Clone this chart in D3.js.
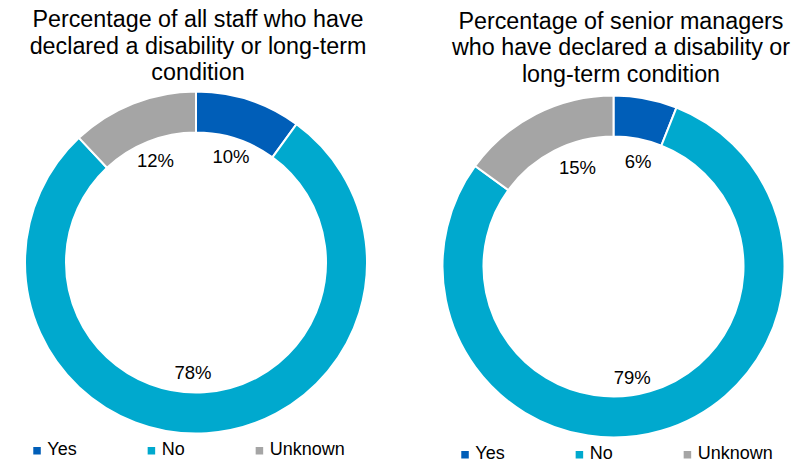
<!DOCTYPE html>
<html>
<head>
<meta charset="utf-8">
<script src="https://cdn.jsdelivr.net/npm/d3@7"></script>
<style>
  body { margin: 0; background: #fff; }
  text { font-family: "Liberation Sans", Arial, sans-serif; fill: #000; }
</style>
</head>
<body>
<div id="my_dataviz"></div>
<script>
// data
const categories = ["Yes", "No", "Unknown"];
const allStaff = [10, 78, 12];
const seniorManagers = [6, 79, 15];
const titleAll = ["Percentage of all staff who have", "declared a disability or long-term", "condition"];
const titleSenior = ["Percentage of senior managers", "who have declared a disability or", "long-term condition"];

const w = 808, h = 473;

const color = d3.scaleOrdinal()
    .domain(categories)
    .range(["#005EB8", "#00A9CE", "#A5A5A5"]);

const svg = d3.select("#my_dataviz")
    .append("svg")
    .attr("width", w)
    .attr("height", h);

// layout per chart (label nudges mimic the hand-moved labels of the original)
const charts = [
    { values: allStaff, title: titleAll, cx: 196, cy: 262.5, titleX: 198, titleY: 27, legendX: 189, legendY: 455,
      nudge: [[1, -1], [-10, 0], [0, 0]] },
    { values: seniorManagers, title: titleSenior, cx: 613.5, cy: 266.5, titleX: 621, titleY: 28.5, legendX: 617, legendY: 459,
      nudge: [[4, 3], [-12, 5], [14, -1]] }
];

const outerR = 171, innerR = 130;

const pie = d3.pie().sort(null).value(d => d.v);
const arc = d3.arc().innerRadius(innerR).outerRadius(outerR);
const labelArc = d3.arc().innerRadius(110).outerRadius(110);

charts.forEach(c => {
    const data = categories.map((k, i) => ({ k: k, v: c.values[i], i: i }));

    // title
    const t = svg.append("text")
        .attr("text-anchor", "middle")
        .style("font-size", "23.3px");
    c.title.forEach((line, i) => {
        t.append("tspan")
            .attr("x", c.titleX)
            .attr("y", c.titleY + i * 26.6)
            .text(line);
    });

    const g = svg.append("g")
        .attr("transform", `translate(${c.cx}, ${c.cy})`);

    g.selectAll("path")
        .data(pie(data))
        .join("path")
        .attr("d", arc)
        .attr("fill", d => color(d.data.k))
        .attr("stroke", "#fff")
        .attr("stroke-width", 2);

    g.selectAll("text.lbl")
        .data(pie(data))
        .join("text")
        .attr("class", "lbl")
        .attr("text-anchor", "middle")
        .attr("dy", "0.35em")
        .style("font-size", "18.5px")
        .attr("transform", d => {
            const p = labelArc.centroid(d);
            const n = c.nudge[d.data.i];
            return `translate(${p[0] + n[0]}, ${p[1] + n[1]})`;
        })
        .text(d => d.data.v + "%");

    // legend, centred under the chart
    const lg = svg.append("g");
    let x = 0;
    categories.forEach(k => {
        const item = lg.append("g").attr("transform", `translate(${x}, 0)`);
        item.append("rect")
            .attr("x", 0)
            .attr("y", -8)
            .attr("width", 7.5)
            .attr("height", 7.5)
            .attr("fill", color(k));
        const tx = item.append("text")
            .attr("x", 14)
            .attr("y", 0)
            .style("font-size", "18px")
            .text(k);
        x += 14 + tx.node().getComputedTextLength() + 71;
    });
    const lw = lg.node().getBBox().width;
    lg.attr("transform", `translate(${c.legendX - lw / 2}, ${c.legendY})`);
});
</script>
</body>
</html>
